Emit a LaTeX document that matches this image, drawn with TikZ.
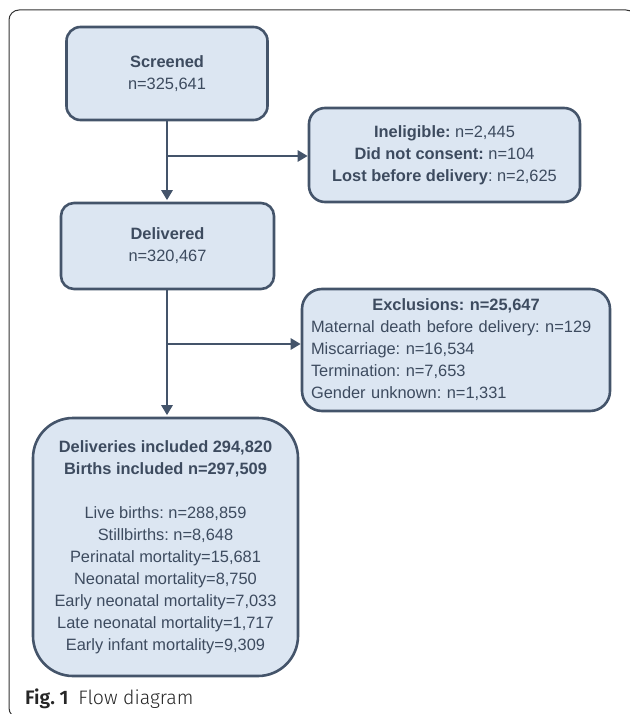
\documentclass[tikz,border=0pt]{standalone}
\usepackage{fontspec}
\setmainfont{Liberation Sans}
\newfontfamily\capfont{Fira Sans}[UprightFont=* Light,BoldFont=* SemiBold]
\usetikzlibrary{positioning,arrows.meta}
\definecolor{slate}{HTML}{44546A}
\definecolor{paleblue}{HTML}{DCE6F2}
\frenchspacing

\begin{document}
\begin{tikzpicture}[x=1pt,y=-1pt,
  box/.style={draw=slate,fill=paleblue,line width=2.6pt,text=slate!90!black,align=center,inner sep=0pt,
    font=\fontsize{16.4}{22}\selectfont},
  flow/.style={draw=slate,line width=2.5pt,-{Triangle[length=10pt,width=11pt]}}]

\useasboundingbox (0,0) rectangle (629,714);
\draw[line width=1pt,black!80,rounded corners=10pt] (9,10) rectangle (636,718);

\node[box,rounded corners=14pt,minimum width=201pt,minimum height=93pt] (screened) at (167,73.5) {\textbf{Screened}\\n=325,641};
\node[box,rounded corners=16pt,minimum width=271pt,minimum height=94pt] (inel) at (444.5,155) {\textbf{Ineligible:} n=2,445\\\textbf{Did not consent:} n=104\\\textbf{Lost before delivery}: n=2,625};
\node[box,rounded corners=13pt,minimum width=213pt,minimum height=86pt] (deliv) at (167.5,246) {\textbf{Delivered}\\n=320,467};
\node[box,rounded corners=20pt,minimum width=308pt,minimum height=122pt,text width=290pt,align=left] (excl) at (456,350) {\hfill\textbf{Exclusions: n=25,647}\hfill\null\\Maternal death before delivery: n=129\\Miscarriage: n=16,534\\Termination: n=7,653\\Gender unknown: n=1,331};
\node[box,rounded corners=40pt,minimum width=265pt,minimum height=258pt] (incl) at (165.5,547) {\textbf{Deliveries included 294,820}\\\textbf{Births included n=297,509}\\[22pt]Live births: n=288,859\\Stillbirths: n=8,648\\Perinatal mortality=15,681\\Neonatal mortality=8,750\\Early neonatal mortality=7,033\\Late neonatal mortality=1,717\\Early infant mortality=9,309};

\coordinate (split1) at (167,156);
\coordinate (split2) at (167,344);
\draw[flow,shorten >=1.5pt] (screened.south) -- (screened.south |- deliv.north);
\draw[flow] (split1) -- (split1 -| inel.west);
\draw[flow,shorten >=1.5pt] (deliv.south -| screened.south) -- (screened.south |- incl.north);
\draw[flow] (split2) -- (split2 -| excl.west);

\node[anchor=base west,inner sep=0pt,text=black!85,font=\capfont\fontsize{19.5}{22}\selectfont] (caption) at (25,704) {\textbf{Fig. 1}\hspace{0.5em}Flow diagram};

\end{tikzpicture}
\end{document}
